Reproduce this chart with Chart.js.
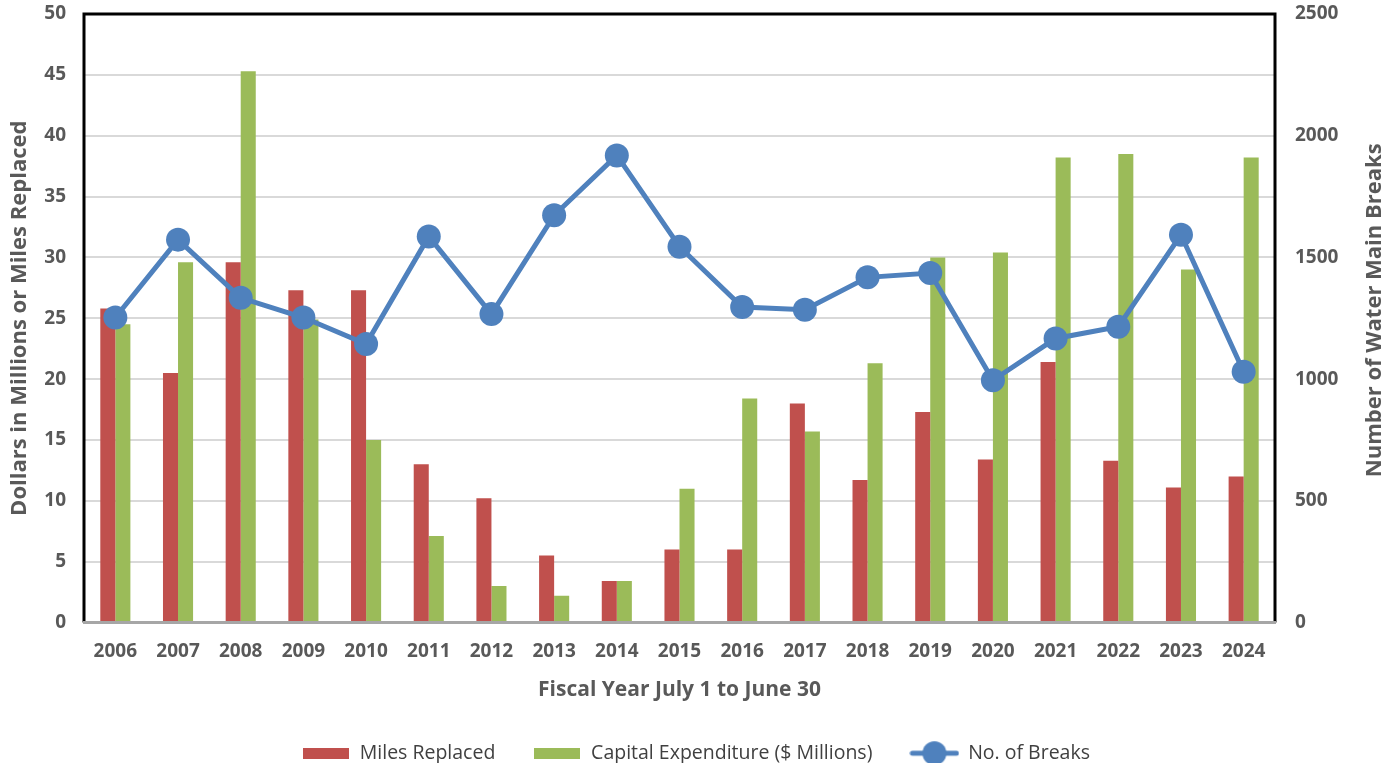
<!DOCTYPE html>
<html>
<head>
<meta charset="utf-8">
<script src="https://cdn.jsdelivr.net/npm/chart.js@4.4.1/dist/chart.umd.min.js"></script>
<style>
  html, body { margin: 0; padding: 0; background: #ffffff; }
  #wrap { position: relative; width: 1392px; height: 763px; }
</style>
</head>
<body>
<div id="wrap"><canvas id="c" width="1392" height="763"></canvas></div>
<script>
const categories = ['2006','2007','2008','2009','2010','2011','2012','2013','2014','2015','2016','2017','2018','2019','2020','2021','2022','2023','2024'];
const milesReplaced = [25.8, 20.5, 29.6, 27.3, 27.3, 13.0, 10.2, 5.5, 3.4, 6.0, 6.0, 18.0, 11.7, 17.3, 13.4, 21.4, 13.3, 11.1, 12.0];
const capitalExpenditure = [24.5, 29.6, 45.3, 24.9, 15.0, 7.1, 3.0, 2.2, 3.4, 11.0, 18.4, 15.7, 21.3, 30.0, 30.4, 38.2, 38.5, 29.0, 38.2];
const numberOfBreaks = [1253, 1573, 1334, 1253, 1144, 1586, 1267, 1673, 1919, 1544, 1296, 1285, 1418, 1436, 995, 1167, 1215, 1593, 1030];
const leftTicks = { min: 0, max: 50, step: 5 };
const rightTicks = { min: 0, max: 2500, step: 500 };
const rightTitle = 'Number of Water Main Breaks';

const RED = '#C0504D', GREEN = '#9BBB59', BLUE = '#4F81BD', TEXT = '#595959';
const FONT = "'Open Sans', 'Liberation Sans', sans-serif";

function boxIcon(color) {
  const cv = document.createElement('canvas');
  cv.width = 46; cv.height = 11;
  const g = cv.getContext('2d');
  g.fillStyle = color; g.fillRect(0, 0, 46, 11);
  return cv;
}
function lineIcon(color) {
  const cv = document.createElement('canvas');
  cv.width = 50; cv.height = 26;
  const g = cv.getContext('2d');
  g.strokeStyle = color; g.lineWidth = 5; g.lineCap = 'round';
  g.beginPath(); g.moveTo(3, 13); g.lineTo(47, 13); g.stroke();
  g.fillStyle = color; g.beginPath(); g.arc(25, 13, 12, 0, Math.PI * 2); g.fill();
  return cv;
}

const frame = {
  id: 'frame',
  afterDatasetsDraw(chart) {
    const a = chart.chartArea, ctx = chart.ctx;
    ctx.save();
    ctx.strokeStyle = '#000000';
    ctx.lineWidth = 3;
    ctx.beginPath();
    ctx.moveTo(a.left, a.bottom);
    ctx.lineTo(a.left, a.top);
    ctx.lineTo(a.right, a.top);
    ctx.lineTo(a.right, a.bottom);
    ctx.stroke();
    ctx.strokeStyle = '#A6A6A6';
    ctx.beginPath();
    ctx.moveTo(a.left - 1, a.bottom);
    ctx.lineTo(a.right + 1, a.bottom);
    ctx.stroke();
    ctx.restore();
  },
  afterDraw(chart) {
    const a = chart.chartArea, ctx = chart.ctx;
    const s = chart.scales.y1;
    ctx.save();
    ctx.translate(s.right - 17, (a.top + a.bottom) / 2 - 8);
    ctx.rotate(-Math.PI / 2);
    ctx.fillStyle = TEXT;
    ctx.font = "bold 22px " + FONT;
    ctx.textAlign = 'center';
    ctx.textBaseline = 'middle';
    ctx.fillText(rightTitle, 0, 0);
    ctx.restore();
  }
};

new Chart(document.getElementById('c'), {
  data: {
    labels: categories,
    datasets: [
      { type: 'line', label: 'No. of Breaks', data: numberOfBreaks, yAxisID: 'y1', order: 0,
        borderColor: BLUE, backgroundColor: BLUE, borderWidth: 5, pointRadius: 12, pointHoverRadius: 12,
        pointBorderWidth: 0, pointBackgroundColor: BLUE, tension: 0 },
      { type: 'bar', label: 'Miles Replaced', data: milesReplaced, yAxisID: 'y', order: 1,
        backgroundColor: RED, categoryPercentage: 0.48, barPercentage: 1.0 },
      { type: 'bar', label: 'Capital Expenditure ($ Millions)', data: capitalExpenditure, yAxisID: 'y', order: 1,
        backgroundColor: GREEN, categoryPercentage: 0.48, barPercentage: 1.0 }
    ]
  },
  options: {
    responsive: false,
    animation: false,
    layout: { padding: { top: 14, bottom: -10, left: 0, right: 0 } },
    plugins: {
      tooltip: { enabled: false },
      legend: {
        position: 'bottom',
        labels: {
          usePointStyle: true,
          pointStyleWidth: 48,
          boxHeight: 26,
          padding: 38,
          color: '#404040',
          font: { family: FONT, size: 19.5 },
          generateLabels(chart) {
            const ds = chart.data.datasets;
            return [
              { text: ds[1].label, pointStyle: boxIcon(RED), fillStyle: RED, strokeStyle: RED, lineWidth: 0, datasetIndex: 1, hidden: false, fontColor: '#404040' },
              { text: ds[2].label, pointStyle: boxIcon(GREEN), fillStyle: GREEN, strokeStyle: GREEN, lineWidth: 0, datasetIndex: 2, hidden: false, fontColor: '#404040' },
              { text: ds[0].label, pointStyle: lineIcon(BLUE), fillStyle: BLUE, strokeStyle: BLUE, lineWidth: 0, datasetIndex: 0, hidden: false, fontColor: '#404040' }
            ];
          }
        }
      }
    },
    scales: {
      x: {
        grid: { display: false, drawTicks: false },
        border: { display: false },
        ticks: { color: TEXT, padding: 18, font: { family: FONT, size: 19, weight: 'bold' }, maxRotation: 0 },
        title: { display: true, text: 'Fiscal Year July 1 to June 30', color: TEXT, padding: { top: 0, bottom: 3 },
                 font: { family: FONT, size: 21, weight: 'bold' } },
        afterFit(s) { s.height = 83; }
      },
      y: {
        position: 'left',
        min: leftTicks.min, max: leftTicks.max,
        grid: { color: '#D9D9D9', lineWidth: 2, drawTicks: true, tickLength: 18, tickColor: 'rgba(0,0,0,0)' },
        border: { display: false },
        ticks: { stepSize: leftTicks.step, color: TEXT, padding: 0, font: { family: FONT, size: 19, weight: 'bold' } },
        title: { display: true, text: 'Dollars in Millions or Miles Replaced', color: TEXT, padding: { top: 7, bottom: 0 },
                 font: { family: FONT, size: 22, weight: 'bold' } },
        afterFit(s) { s.width = 84; }
      },
      y1: {
        position: 'right',
        min: rightTicks.min, max: rightTicks.max,
        grid: { display: false, drawOnChartArea: false, drawTicks: true, tickLength: 20, tickColor: 'rgba(0,0,0,0)' },
        border: { display: false },
        ticks: { stepSize: rightTicks.step, color: TEXT, padding: 0, font: { family: FONT, size: 19, weight: 'bold' },
                 callback: (v) => String(v) },
        title: { display: false },
        afterFit(s) { s.width = 117; }
      }
    }
  },
  plugins: [frame]
});
</script>
</body>
</html>
